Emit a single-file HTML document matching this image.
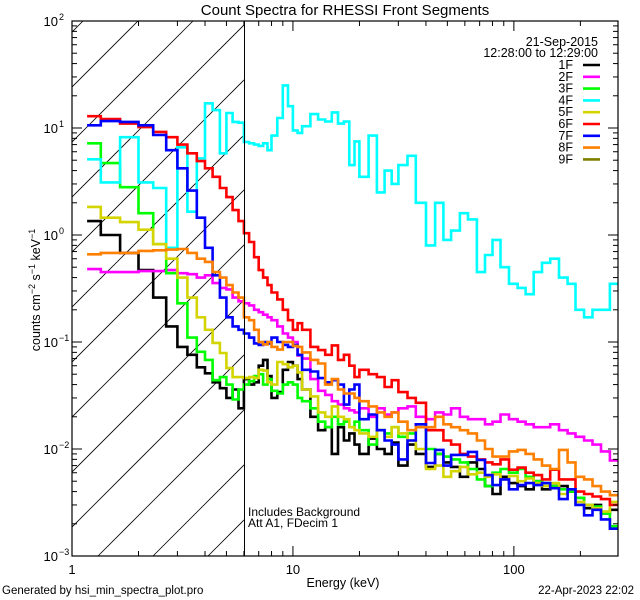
<!DOCTYPE html>
<html><head><meta charset="utf-8"><style>
html,body{margin:0;padding:0;background:#fff;}
svg{display:block;font-family:"Liberation Sans",sans-serif;}
</style></head><body>
<svg id="chart" width="640" height="600" viewBox="0 0 640 600" xmlns="http://www.w3.org/2000/svg">
<defs><clipPath id="plotclip"><rect x="72" y="21" width="546" height="535"/></clipPath></defs>
<rect x="0" y="0" width="640" height="600" fill="#fff"/>
<text x="345" y="15" font-size="15" text-anchor="middle">Count Spectra for RHESSI Front Segments</text>
<g id="hatch" clip-path="url(#plotclip)"></g>
<g id="series" clip-path="url(#plotclip)"></g>
<line x1="244.5" y1="21" x2="244.5" y2="556" stroke="#000" stroke-width="1"/>
<rect x="72" y="21" width="546" height="535" fill="none" stroke="#000" stroke-width="1.2"/>
<g id="axes"></g>
<text x="343" y="587" font-size="12.5" text-anchor="middle">Energy (keV)</text>
<text transform="translate(40,290) rotate(-90)" font-size="12.5" text-anchor="middle">counts cm<tspan dy="-5" font-size="9">−2</tspan><tspan dy="5"> s</tspan><tspan dy="-5" font-size="9">−1</tspan><tspan dy="5"> keV</tspan><tspan dy="-5" font-size="9">−1</tspan></text>
<text x="598" y="46" font-size="12.5" text-anchor="end">21-Sep-2015</text>
<text x="598" y="57" font-size="12.5" text-anchor="end">12:28:00 to 12:29:00</text>
<g id="legend"></g>
<text x="248" y="516" font-size="12">Includes Background</text>
<text x="248" y="527" font-size="12">Att A1, FDecim 1</text>
<text x="2" y="594" font-size="11.5">Generated by hsi_min_spectra_plot.pro</text>
<text x="634" y="594" font-size="11.5" text-anchor="end">22-Apr-2023 22:02</text>
</svg>
<script>
const edges=[1.17,1.35,1.65,2.0,2.33,2.67,3.0,3.33,3.67,4.0,4.33,4.67,5.0,5.33,5.67,6.0,6.33,6.67,7,7.33,7.67,8,8.5,9,9.5,10,10.5,11,12,13,14,15,16,17,18,19,20,22,24,26,28,30,33,36,40,44,48,52,57,62,68,74,80,87,95,104,113,123,134,146,160,175,190,208,227,248,272,296];
const seriesNames=["1F","2F","3F","4F","5F","6F","7F","8F","9F"];
const seriesColors=["#000000","#ff00ff","#00ff00","#00ffff","#d4d400","#ff0000","#0000ff","#ff8000","#808000"];
const s1F=[1.35,1.0,0.68,0.47,0.26,0.14,0.09,0.076,0.058,0.051,0.042,0.037,0.03,0.036,0.024,0.045,0.04,0.042,0.06,0.068,0.048,0.03,0.034,0.055,0.065,0.06,0.045,0.036,0.02,0.015,0.016,0.009,0.016,0.012,0.014,0.011,0.009,0.0125,0.01,0.009,0.0115,0.007,0.011,0.009,0.0068,0.009,0.0075,0.0068,0.0055,0.0075,0.0065,0.0045,0.0038,0.0055,0.0048,0.0045,0.0042,0.005,0.0042,0.0045,0.0045,0.004,0.0035,0.0028,0.003,0.0025,0.0027];
const s2F=[0.48,0.45,0.45,0.46,0.46,0.47,0.44,0.43,0.4,0.42,0.355,0.32,0.31,0.26,0.24,0.23,0.22,0.2,0.19,0.18,0.17,0.16,0.14,0.12,0.11,0.1,0.075,0.07,0.045,0.035,0.032,0.028,0.026,0.024,0.023,0.022,0.024,0.02,0.024,0.021,0.022,0.024,0.025,0.02,0.019,0.022,0.021,0.024,0.02,0.019,0.019,0.017,0.018,0.021,0.019,0.018,0.017,0.016,0.016,0.017,0.015,0.014,0.013,0.012,0.011,0.0095,0.0078];
const s3F=[7.2,4.7,2.8,1.6,0.82,0.44,0.23,0.11,0.081,0.068,0.044,0.047,0.04,0.029,0.036,0.04,0.043,0.048,0.05,0.04,0.045,0.035,0.033,0.04,0.042,0.04,0.03,0.028,0.024,0.018,0.016,0.02,0.017,0.018,0.016,0.018,0.015,0.011,0.015,0.014,0.016,0.013,0.014,0.016,0.01,0.009,0.0085,0.008,0.0075,0.0065,0.0052,0.0045,0.006,0.0065,0.006,0.0065,0.0055,0.005,0.0048,0.0045,0.0042,0.004,0.0035,0.003,0.0029,0.0025,0.0019];
const s4F=[5.1,3.1,8.2,3.1,2.75,0.76,6.6,1.65,5.2,17,14.7,5.8,13.8,11.4,11.2,7.4,7.2,7.0,6.8,7.2,6.2,8.5,12.4,25,16,9.5,9.0,10.4,13.5,12,11.5,14,11,11.5,4.5,7.5,3.5,8.5,2.5,4,3,4.5,5.5,2.0,0.8,2.0,0.9,1.1,1.6,1.4,0.45,0.65,0.9,0.5,0.35,0.32,0.28,0.45,0.55,0.6,0.4,0.35,0.2,0.17,0.2,0.2,0.35];
const s5F=[1.83,1.45,1.32,1.12,0.82,0.6,0.4,0.26,0.17,0.13,0.098,0.079,0.057,0.047,0.047,0.046,0.047,0.046,0.055,0.054,0.042,0.04,0.065,0.062,0.058,0.06,0.052,0.036,0.031,0.022,0.02,0.025,0.02,0.019,0.016,0.015,0.014,0.013,0.015,0.013,0.016,0.014,0.012,0.01,0.0065,0.007,0.0055,0.0062,0.0068,0.0058,0.006,0.0055,0.0058,0.0052,0.0056,0.005,0.0053,0.0048,0.0045,0.0048,0.0038,0.0042,0.0032,0.003,0.0028,0.0026,0.0032];
const s6F=[12.9,12.1,11.0,10.2,9.2,8.2,7.0,5.8,4.9,4.2,3.5,2.75,2.26,1.71,1.35,1.04,0.86,0.62,0.47,0.4,0.34,0.29,0.25,0.2,0.16,0.13,0.15,0.13,0.09,0.084,0.076,0.093,0.068,0.076,0.06,0.047,0.055,0.05,0.047,0.038,0.044,0.034,0.03,0.027,0.015,0.015,0.012,0.011,0.009,0.0085,0.008,0.0075,0.0072,0.008,0.0064,0.0067,0.006,0.0057,0.0052,0.0064,0.0052,0.0052,0.004,0.0038,0.0036,0.0034,0.003];
const s7F=[10.6,11.6,11.4,10.6,8.6,6.2,4.2,2.6,1.45,0.76,0.42,0.26,0.17,0.14,0.13,0.12,0.11,0.097,0.094,0.1,0.097,0.11,0.1,0.094,0.09,0.094,0.076,0.055,0.053,0.046,0.042,0.044,0.04,0.026,0.036,0.04,0.019,0.021,0.015,0.012,0.011,0.008,0.012,0.017,0.0074,0.0098,0.007,0.0088,0.0088,0.0094,0.0079,0.0057,0.0046,0.0052,0.0042,0.0046,0.0048,0.0046,0.0048,0.0043,0.0034,0.0042,0.003,0.0024,0.0027,0.0022,0.0018];
const s8F=[0.66,0.68,0.68,0.71,0.72,0.73,0.74,0.68,0.6,0.56,0.45,0.4,0.34,0.29,0.26,0.17,0.16,0.13,0.1,0.095,0.1,0.09,0.085,0.1,0.1,0.092,0.09,0.08,0.068,0.063,0.04,0.045,0.036,0.033,0.033,0.03,0.028,0.025,0.022,0.02,0.022,0.018,0.015,0.016,0.016,0.02,0.017,0.016,0.015,0.014,0.012,0.01,0.0085,0.0085,0.0095,0.0098,0.009,0.008,0.007,0.0065,0.0098,0.0075,0.0055,0.0052,0.0045,0.004,0.0037];
const s9F=[];
const allSeries=[s1F,s2F,s3F,s4F,s5F,s6F,s7F,s8F,s9F];
const xTickMajor=[1,10,100];
const xTickLabels=["1","10","100"];
const yTickExp=[2,1,0,-1,-2,-3];

const NS="http://www.w3.org/2000/svg";
const X0=72,X1=618,Y0=21,Y1=556;
const xMinLog=0,xMaxLog=Math.log10(296),yMaxLog=2,yMinLog=-3;
function xs(e){return X0+(Math.log10(e)-xMinLog)/(xMaxLog-xMinLog)*(X1-X0);}
function ys(v){return Y0+(yMaxLog-Math.log10(v))/(yMaxLog-yMinLog)*(Y1-Y0);}
function mk(tag,attrs,parent){const el=document.createElementNS(NS,tag);for(const k in attrs)el.setAttribute(k,attrs[k]);parent.appendChild(el);return el;}

// hatching
const hatch=document.getElementById('hatch');
for(let c=104;c<=820;c+=55){
  const ln=mk('line',{x1:c-Y1,y1:Y1,x2:c-Y0+0,y2:Y0,stroke:'#000','stroke-width':0.8},hatch);
  
  
}
// clip hatch to left of cutoff
hatch.setAttribute('clip-path','url(#hatchclip)');
const defs=document.querySelector('defs');
const hc=mk('clipPath',{id:'hatchclip'},defs);
mk('rect',{x:X0,y:Y0,width:xs(6)-X0,height:Y1-Y0},hc);

// series
const sg=document.getElementById('series');
allSeries.forEach((vals,si)=>{
  if(!vals.length)return;
  let d='';let pen=false;
  for(let i=0;i<vals.length;i++){
    const v=vals[i];
    if(v==null||v<=0){pen=false;continue;}
    const xa=xs(edges[i]),xb=xs(edges[i+1]),y=ys(v);
    d+=(pen?'L':'M')+xa.toFixed(1)+' '+y.toFixed(1)+'L'+xb.toFixed(1)+' '+y.toFixed(1);
    pen=true;
  }
  const p=mk('path',{d:d,fill:'none',stroke:seriesColors[si],'stroke-width':2.6,'stroke-linejoin':'miter'},sg);
  
  
});

// axes ticks
const ax=document.getElementById('axes');
for(let dec=0;dec<3;dec++){
  for(let m=1;m<=9;m++){
    const e=m*Math.pow(10,dec);
    if(e>296)continue;
    const x=xs(e);const len=(m===1)?10:5;
    const t1=mk('line',{x1:x,y1:Y1,x2:x,y2:Y1-len,stroke:'#000','stroke-width':1},ax);
    
    
    const t2=mk('line',{x1:x,y1:Y0,x2:x,y2:Y0+len,stroke:'#000','stroke-width':1},ax);
    
    
  }
}
xTickMajor.forEach((e,i)=>{
  const t=mk('text',{x:xs(e),y:574,'font-size':13,'text-anchor':'middle'},ax);
  t.textContent=xTickLabels[i];
  
  
});
for(let ex=-3;ex<2;ex++){
  for(let m=1;m<=9;m++){
    const v=m*Math.pow(10,ex);const y=ys(v);const len=(m===1)?10:5;
    const a=mk('line',{x1:X0,y1:y,x2:X0+len,y2:y,stroke:'#000','stroke-width':1},ax);
    
    
    const b=mk('line',{x1:X1,y1:y,x2:X1-len,y2:y,stroke:'#000','stroke-width':1},ax);
    
    
  }
}
yTickExp.forEach(ex=>{
  const y=ys(Math.pow(10,ex));
  const t=mk('text',{x:58,y:y+5,'font-size':13,'text-anchor':'end'},ax);
  t.textContent='10';
  
  
  const s=mk('text',{x:59,y:y-1,'font-size':9,'text-anchor':'start'},ax);
  s.textContent=ex<0?('−'+(-ex)):String(ex);
  
  
});

// legend
const lg=document.getElementById('legend');
seriesNames.forEach((n,i)=>{
  const y=65+i*11.8;
  const t=mk('text',{x:573,y:y+4,'font-size':12.5,'text-anchor':'end'},lg);
  t.textContent=n;
  
  
  const l=mk('line',{x1:583,y1:y,x2:600,y2:y,stroke:seriesColors[i],'stroke-width':2.6},lg);
  
  
});
</script>
</body></html>
